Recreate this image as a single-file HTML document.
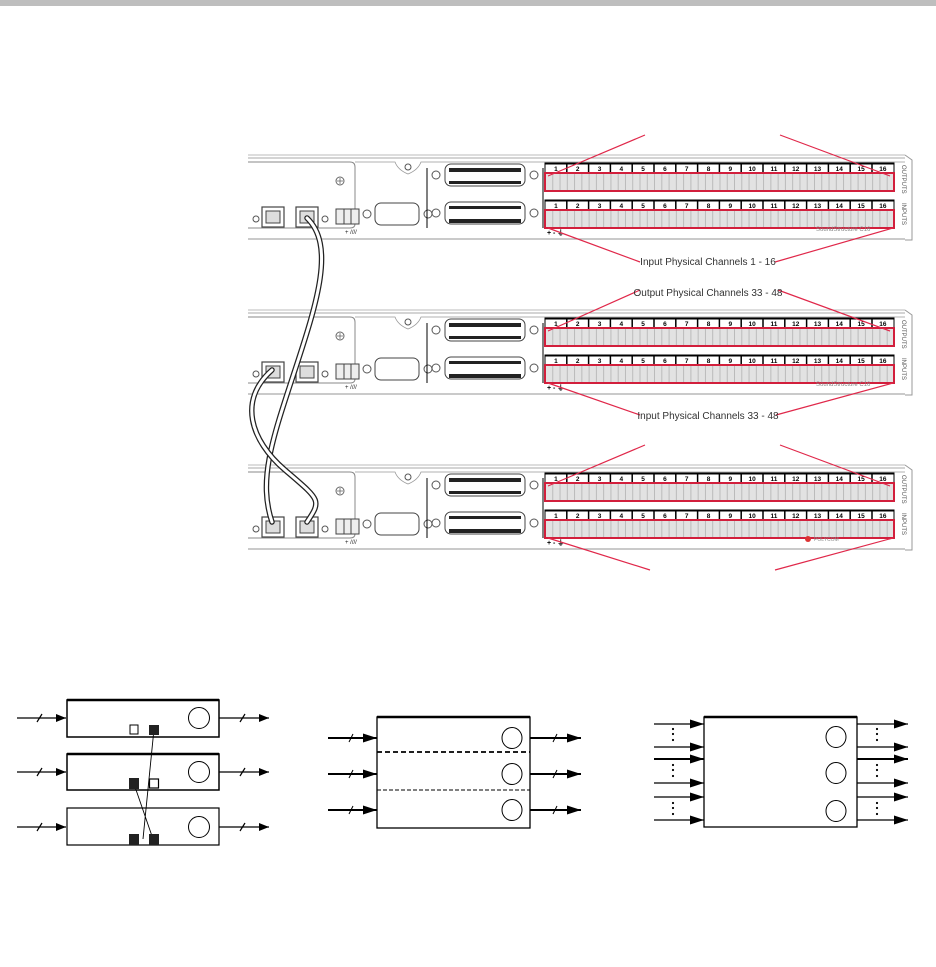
<!DOCTYPE html>
<html><head><meta charset="utf-8"><style>
html,body{margin:0;padding:0;background:#fff}
svg{display:block}
text{font-family:"Liberation Sans",sans-serif}
</style></head><body>
<svg width="936" height="967" viewBox="0 0 936 967" xmlns="http://www.w3.org/2000/svg">
<defs>
<marker id="ah" markerWidth="10" markerHeight="8" refX="10" refY="4" orient="auto" markerUnits="userSpaceOnUse"><path d="M0,0 L10,4 L0,8 z" fill="#000"/></marker>
<marker id="ah2" markerWidth="14" markerHeight="9" refX="14" refY="4.5" orient="auto" markerUnits="userSpaceOnUse"><path d="M0,0 L14,4.5 L0,9 z" fill="#000"/></marker>
<pattern id="pins" x="545" y="0" width="7.27" height="30" patternUnits="userSpaceOnUse">
<rect width="7.27" height="30" fill="#e2e2e2"/><line x1="0.5" y1="0" x2="0.5" y2="30" stroke="#aaa" stroke-width="0.7"/><rect x="3.3" y="8" width="1" height="1.5" fill="#666"/>
</pattern>
<g id="nums">
<rect x="545" y="0" width="349" height="10" fill="#fff" stroke="#000" stroke-width="1"/>
<line x1="545" y1="0.5" x2="894" y2="0.5" stroke="#000" stroke-width="2"/>
<g stroke="#000" stroke-width="1.5">
<line x1="566.8" y1="0" x2="566.8" y2="10"/><line x1="588.6" y1="0" x2="588.6" y2="10"/><line x1="610.4" y1="0" x2="610.4" y2="10"/><line x1="632.2" y1="0" x2="632.2" y2="10"/><line x1="654" y1="0" x2="654" y2="10"/><line x1="675.8" y1="0" x2="675.8" y2="10"/><line x1="697.6" y1="0" x2="697.6" y2="10"/><line x1="719.4" y1="0" x2="719.4" y2="10"/><line x1="741.2" y1="0" x2="741.2" y2="10"/><line x1="763" y1="0" x2="763" y2="10"/><line x1="784.8" y1="0" x2="784.8" y2="10"/><line x1="806.6" y1="0" x2="806.6" y2="10"/><line x1="828.4" y1="0" x2="828.4" y2="10"/><line x1="850.2" y1="0" x2="850.2" y2="10"/><line x1="872" y1="0" x2="872" y2="10"/>
</g>
<g font-size="6.5" font-weight="bold" text-anchor="middle">
<text x="555.9" y="8">1</text><text x="577.7" y="8">2</text><text x="599.5" y="8">3</text><text x="621.3" y="8">4</text><text x="643.1" y="8">5</text><text x="664.9" y="8">6</text><text x="686.7" y="8">7</text><text x="708.5" y="8">8</text><text x="730.3" y="8">9</text><text x="752.1" y="8">10</text><text x="773.9" y="8">11</text><text x="795.7" y="8">12</text><text x="817.5" y="8">13</text><text x="839.3" y="8">14</text><text x="861.1" y="8">15</text><text x="882.9" y="8">16</text>
</g>
<rect x="545" y="10" width="349" height="18" fill="url(#pins)" stroke="#d21f3c" stroke-width="2"/>
</g>
<g id="unit">
<line x1="248" y1="155" x2="905" y2="155" stroke="#bbb" stroke-width="1"/>
<line x1="248" y1="158" x2="905" y2="158" stroke="#aaa" stroke-width="1"/>
<line x1="248" y1="239" x2="905" y2="239" stroke="#aaa" stroke-width="1.2"/>
<path d="M905,155 L912,160 L912,240 L905,240" fill="none" stroke="#999" stroke-width="1"/>
<text x="0" y="0" font-size="6" fill="#555" transform="translate(902,165) rotate(90)">OUTPUTS</text>
<text x="0" y="0" font-size="6" fill="#555" transform="translate(902,203) rotate(90)">INPUTS</text>
<path d="M248,162 L350,162 Q355,162 355,167 L355,224 Q355,228 350,228 L248,228" fill="none" stroke="#888" stroke-width="1"/>
<circle cx="340" cy="181" r="4" fill="none" stroke="#666"/><path d="M337,181h6M340,178v6" stroke="#666" stroke-width="0.8"/>
<path d="M355,162 L395,162 Q398,170 408,174 Q418,170 421,162 L905,162" fill="none" stroke="#999" stroke-width="0.8"/>
<circle cx="408" cy="167" r="3" fill="none" stroke="#555"/>
<circle cx="256" cy="219" r="3" fill="none" stroke="#555"/>
<rect x="262" y="207" width="22" height="20" fill="#fff" stroke="#444" stroke-width="1.2"/><rect x="266" y="211" width="14" height="12" fill="#ddd" stroke="#444"/>
<rect x="296" y="207" width="22" height="20" fill="#fff" stroke="#444" stroke-width="1.2"/><rect x="300" y="211" width="14" height="12" fill="#ddd" stroke="#444"/>
<circle cx="325" cy="219" r="3" fill="none" stroke="#555"/>
<rect x="336" y="209" width="23" height="15" fill="#eee" stroke="#444"/><path d="M344,209v15M351,209v15" stroke="#444"/>
<text x="345" y="234" font-size="6" fill="#222">+ ////</text>
<circle cx="367" cy="214" r="4" fill="none" stroke="#555"/>
<rect x="375" y="203" width="44" height="22" rx="6" fill="#fff" stroke="#444"/>
<circle cx="428" cy="214" r="4" fill="none" stroke="#555"/>
<line x1="427" y1="168" x2="427" y2="228" stroke="#000" stroke-width="1"/>
<circle cx="436" cy="175" r="4" fill="none" stroke="#555"/><rect x="445" y="164" width="80" height="22" rx="6" fill="#fff" stroke="#444"/><rect x="449" y="168" width="72" height="4" fill="#222"/><rect x="449" y="181" width="72" height="3" fill="#222"/><circle cx="534" cy="175" r="4" fill="none" stroke="#555"/>
<circle cx="436" cy="213" r="4" fill="none" stroke="#555"/><rect x="445" y="202" width="80" height="22" rx="6" fill="#fff" stroke="#444"/><rect x="449" y="206" width="72" height="3" fill="#222"/><rect x="449" y="219" width="72" height="4" fill="#222"/><circle cx="534" cy="213" r="4" fill="none" stroke="#555"/>
<line x1="543" y1="168" x2="543" y2="228" stroke="#000" stroke-width="1"/>
<use href="#nums" y="163"/>
<use href="#nums" y="200"/>
<text x="547" y="235" font-size="7" font-weight="bold">+ - ⏚</text>
</g>
</defs>

<rect x="0" y="0" width="936" height="6" fill="#bebebe"/>

<use href="#unit"/>
<use href="#unit" y="155"/>
<use href="#unit" y="310"/>
<text x="816" y="231" font-size="6" fill="#888">SoundStructure C16</text>
<text x="816" y="386" font-size="6" fill="#888">SoundStructure C16</text>
<circle cx="808" cy="539" r="3" fill="#d33"/><text x="814" y="541" font-size="5" fill="#888">POLYCOM</text>

<!-- cables -->
<g fill="none" stroke-linecap="round">
<path d="M307,218 C335,245 318,300 295,370 S 258,480 272,522" stroke="#222" stroke-width="5.5"/>
<path d="M307,218 C335,245 318,300 295,370 S 258,480 272,522" stroke="#fff" stroke-width="3"/>
<path d="M272,370 C238,400 250,440 285,470 S 322,500 307,522" stroke="#222" stroke-width="5.5"/>
<path d="M272,370 C238,400 250,440 285,470 S 322,500 307,522" stroke="#fff" stroke-width="3"/>
</g>

<!-- leaders -->
<g stroke="#e0284a" stroke-width="1.2" fill="none">
<path d="M645,135 L548,176 M780,135 L890,176"/>
<path d="M548,228 L640,262 M775,262 L893,228"/>
<path d="M640,290 L548,331 M778,290 L890,331"/>
<path d="M548,383 L640,415 M776,415 L893,383"/>
<path d="M645,445 L548,486 M780,445 L890,486"/>
<path d="M548,538 L650,570 M775,570 L893,538"/>
</g>
<g font-size="10" fill="#333" text-anchor="middle">
<text x="708" y="265">Input Physical Channels 1 - 16</text>
<text x="708" y="296">Output Physical Channels 33 - 48</text>
<text x="708" y="419">Input Physical Channels 33 - 48</text>
</g>

<!-- Diagram 1 -->
<g fill="none" stroke="#000">
<rect x="67" y="700" width="152" height="37" stroke-width="1.5"/><line x1="67" y1="700" x2="219" y2="700" stroke-width="2.5"/>
<rect x="67" y="754" width="152" height="36" stroke-width="1.5"/><line x1="67" y1="754" x2="219" y2="754" stroke-width="2.5"/>
<rect x="67" y="808" width="152" height="37" stroke-width="1.2"/>
<circle cx="199" cy="718" r="10.5"/><circle cx="199" cy="772" r="10.5"/><circle cx="199" cy="827" r="10.5"/>
<g stroke-width="1.2">
<line x1="17" y1="718" x2="66" y2="718" marker-end="url(#ah)"/><line x1="17" y1="772" x2="66" y2="772" marker-end="url(#ah)"/><line x1="17" y1="827" x2="66" y2="827" marker-end="url(#ah)"/>
<line x1="219" y1="718" x2="269" y2="718" marker-end="url(#ah)"/><line x1="219" y1="772" x2="269" y2="772" marker-end="url(#ah)"/><line x1="219" y1="827" x2="269" y2="827" marker-end="url(#ah)"/>
<path d="M37,722 L42,714 M37,776 L42,768 M37,831 L42,823 M240,722 L245,714 M240,776 L245,768 M240,831 L245,823"/>
</g>
<rect x="130" y="725" width="8" height="9" stroke-width="1"/>
<rect x="149.5" y="779" width="9" height="9" stroke-width="1.2"/>
<path d="M154,729 L143,839 M134,784 L153,839" stroke-width="0.9"/>
</g>
<g fill="#222">
<rect x="149" y="725" width="10" height="10"/><rect x="129" y="778" width="10" height="11"/><rect x="129" y="834" width="10" height="11"/><rect x="149" y="834" width="10" height="11"/>
</g>

<!-- Diagram 2 -->
<g fill="none" stroke="#000">
<rect x="377" y="717" width="153" height="111" stroke-width="1.3"/><line x1="377" y1="717" x2="530" y2="717" stroke-width="2.5"/>
<line x1="377" y1="752" x2="530" y2="752" stroke-width="1.8" stroke-dasharray="5,3"/>
<line x1="377" y1="790" x2="530" y2="790" stroke-width="1" stroke-dasharray="4,2"/>
<ellipse cx="512" cy="738" rx="10" ry="10.5"/><ellipse cx="512" cy="774" rx="10" ry="10.5"/><ellipse cx="512" cy="810" rx="10" ry="10.5"/>
<g stroke-width="2">
<line x1="328" y1="738" x2="377" y2="738" marker-end="url(#ah2)"/><line x1="328" y1="774" x2="377" y2="774" marker-end="url(#ah2)"/><line x1="328" y1="810" x2="377" y2="810" marker-end="url(#ah2)"/>
<line x1="530" y1="738" x2="581" y2="738" marker-end="url(#ah2)"/><line x1="530" y1="774" x2="581" y2="774" marker-end="url(#ah2)"/><line x1="530" y1="810" x2="581" y2="810" marker-end="url(#ah2)"/>
</g>
<path d="M349,742 L353,734 M349,778 L353,770 M349,814 L353,806 M553,742 L557,734 M553,778 L557,770 M553,814 L557,806" stroke-width="1"/>
</g>

<!-- Diagram 3 -->
<g fill="none" stroke="#000">
<rect x="704" y="717" width="153" height="110" stroke-width="1.3"/><line x1="704" y1="717" x2="857" y2="717" stroke-width="2.5"/>
<ellipse cx="836" cy="737" rx="10" ry="10.5"/><ellipse cx="836" cy="773" rx="10" ry="10.5"/><ellipse cx="836" cy="811" rx="10" ry="10.5"/>
<g stroke-width="1.2">
<line x1="654" y1="724" x2="704" y2="724" marker-end="url(#ah2)"/><line x1="654" y1="747" x2="704" y2="747" marker-end="url(#ah2)"/><line x1="654" y1="759" x2="704" y2="759" marker-end="url(#ah2)" stroke-width="2"/><line x1="654" y1="783" x2="704" y2="783" marker-end="url(#ah2)"/><line x1="654" y1="797" x2="704" y2="797" marker-end="url(#ah2)"/><line x1="654" y1="820" x2="704" y2="820" marker-end="url(#ah2)"/>
<line x1="857" y1="724" x2="908" y2="724" marker-end="url(#ah2)"/><line x1="857" y1="747" x2="908" y2="747" marker-end="url(#ah2)"/><line x1="857" y1="759" x2="908" y2="759" marker-end="url(#ah2)" stroke-width="2"/><line x1="857" y1="783" x2="908" y2="783" marker-end="url(#ah2)"/><line x1="857" y1="797" x2="908" y2="797" marker-end="url(#ah2)"/><line x1="857" y1="820" x2="908" y2="820" marker-end="url(#ah2)"/>
</g>
</g>
<g fill="#000">
<circle cx="673" cy="729" r="1.1"/><circle cx="673" cy="734" r="1.1"/><circle cx="673" cy="740" r="1.1"/>
<circle cx="673" cy="765" r="1.1"/><circle cx="673" cy="770" r="1.1"/><circle cx="673" cy="776" r="1.1"/>
<circle cx="673" cy="803" r="1.1"/><circle cx="673" cy="808" r="1.1"/><circle cx="673" cy="814" r="1.1"/>
<circle cx="877" cy="729" r="1.1"/><circle cx="877" cy="734" r="1.1"/><circle cx="877" cy="740" r="1.1"/>
<circle cx="877" cy="765" r="1.1"/><circle cx="877" cy="770" r="1.1"/><circle cx="877" cy="776" r="1.1"/>
<circle cx="877" cy="803" r="1.1"/><circle cx="877" cy="808" r="1.1"/><circle cx="877" cy="814" r="1.1"/>
</g>
</svg>
</body></html>
